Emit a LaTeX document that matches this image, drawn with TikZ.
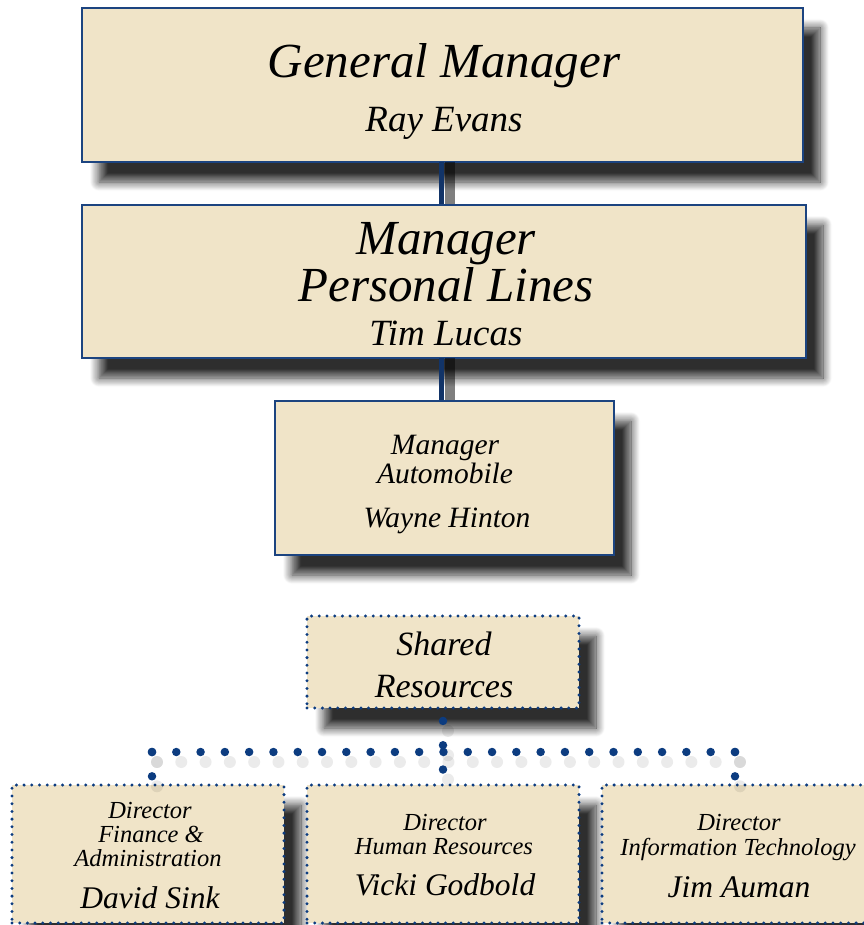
\documentclass[tikz,border=0pt]{standalone}
\usepackage{fontspec}
\setmainfont{Liberation Serif}
\usetikzlibrary{shadows.blur}

\definecolor{boxfill}{RGB}{240,228,200}
\definecolor{boxline}{RGB}{28,68,128}
\definecolor{connblue}{RGB}{18,52,104}
\definecolor{dotblue}{RGB}{12,60,128}

\begin{document}
\begin{tikzpicture}[x=1pt,y=-1pt,
    solidbox/.style={draw=boxline, line width=2.8pt, fill=boxfill, inner sep=0pt,
        blur shadow={shadow xshift=17pt, shadow yshift=-20pt, shadow blur radius=9pt, shadow blur steps=12, shadow opacity=82}},
    dotbox/.style={solidbox, draw=dotblue, line width=3.3pt, line cap=round, dash pattern=on 0pt off 7.7pt},
    toptitle/.style={anchor=base, inner sep=0pt, font=\fontsize{49}{49}\selectfont\itshape},
    topname/.style={anchor=base, inner sep=0pt, font=\fontsize{37}{37}\selectfont\itshape},
    midtext/.style={anchor=base, inner sep=0pt, font=\fontsize{29.5}{29.5}\selectfont\itshape},
    srtext/.style={anchor=base, inner sep=0pt, font=\fontsize{34}{34}\selectfont\itshape},
    dirtext/.style={anchor=base, inner sep=0pt, font=\fontsize{24.5}{24.5}\selectfont\itshape},
    dirname/.style={anchor=base, inner sep=0pt, font=\fontsize{31.5}{31.5}\selectfont\itshape},
    solidconn/.style={draw=connblue, line width=5pt},
    connshadow/.style={draw=black, opacity=.5, line width=10pt},
    dotconn/.style={draw=dotblue, line width=8.5pt, line cap=round, dash pattern=on 0pt off 24.29pt},
    dotshadow/.style={dotconn, draw=black, opacity=.08, line width=12pt}]

    \useasboundingbox (0,0) rectangle (863,925);

    % management line
    \node[solidbox, minimum width=721pt, minimum height=154pt] (gm) at (442.5,85) {};
    \node[toptitle] (gm-title) at (444,78) {General Manager};
    \node[topname] (gm-name) at (444,132) {Ray Evans};

    \node[solidbox, minimum width=724pt, minimum height=153pt] (mpl) at (444,281.5) {};
    \node[toptitle] (mpl-title1) at (446,254) {Manager};
    \node[toptitle] (mpl-title2) at (446,301) {Personal Lines};
    \node[topname] (mpl-name) at (446,345) {Tim Lucas};

    \node[solidbox, minimum width=339pt, minimum height=154pt] (mauto) at (444.5,478) {};
    \node[midtext] (mauto-title1) at (445,454) {Manager};
    \node[midtext] (mauto-title2) at (445,483) {Automobile};
    \node[midtext] (mauto-name) at (447,527) {Wayne Hinton};

    % shared resources and directors
    \node[dotbox, minimum width=272pt, minimum height=92pt] (shared) at (443,662) {};
    \node[srtext] (shared-title1) at (444,655) {Shared};
    \node[srtext] (shared-title2) at (444,697) {Resources};

    \node[dotbox, minimum width=272pt, minimum height=138pt] (dfin) at (148,854) {};
    \node[dirtext] (dfin-title1) at (150,818) {Director};
    \node[dirtext] (dfin-title2) at (151,842) {Finance \&};
    \node[dirtext] (dfin-title3) at (148,866) {Administration};
    \node[dirname] (dfin-name) at (150,908) {David Sink};

    \node[dotbox, minimum width=272pt, minimum height=138pt] (dhr) at (443,854) {};
    \node[dirtext] (dhr-title1) at (445,830) {Director};
    \node[dirtext] (dhr-title2) at (444,854) {Human Resources};
    \node[dirname] (dhr-name) at (445,895) {Vicki Godbold};

    \node[dotbox, minimum width=272pt, minimum height=138pt] (dit) at (738,854) {};
    \node[dirtext] (dit-title1) at (739,830) {Director};
    \node[dirtext] (dit-title2) at (738,855) {Information Technology};
    \node[dirname] (dit-name) at (739,897) {Jim Auman};

    % solid lines
    \coordinate (gmfoot) at (441,162);
    \coordinate (mplfoot) at (441,358);
    \draw[connshadow] ([xshift=9pt]gmfoot) -- ([xshift=9pt]gmfoot |- mpl.north);
    \draw[connshadow] ([xshift=9pt]mplfoot) -- ([xshift=9pt]mplfoot |- mauto.north);
    \draw[solidconn] (gmfoot) -- (gmfoot |- mpl.north);
    \draw[solidconn] (mplfoot) -- (mplfoot |- mauto.north);

    % dotted lines
    \coordinate (hub) at (443,752);
    \coordinate (finhub) at (152,752);
    \coordinate (ithub) at (735,752);

    \draw[dotshadow, dash phase=13pt] ([shift={(5,10)}]shared.south) -- ([shift={(5,10)}]dhr.north);
    \draw[dotshadow] ([shift={(5,10)}]finhub) -- ([shift={(5,10)}]ithub);
    \draw[dotshadow] ([shift={(5,10)}]finhub) -- ([shift={(5,10)}]finhub |- dfin.north);
    \draw[dotshadow] ([shift={(5,10)}]ithub) -- ([shift={(5,10)}]ithub |- dit.north);

    \draw[dotconn, dash phase=13pt] (shared.south) -- (dhr.north);
    \draw[dotconn] (finhub) -- (ithub);
    \draw[dotconn] (finhub) -- (finhub |- dfin.north);
    \draw[dotconn] (ithub) -- (ithub |- dit.north);
\end{tikzpicture}
\end{document}
